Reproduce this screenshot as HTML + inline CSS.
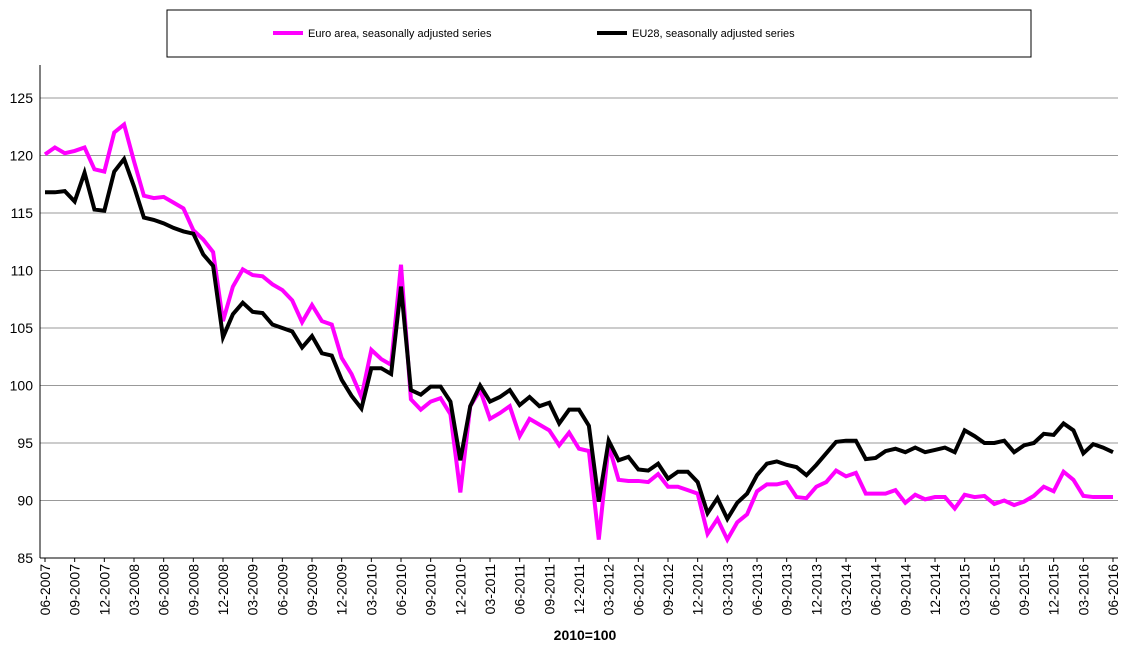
<!DOCTYPE html>
<html><head><meta charset="utf-8"><style>
body{margin:0;background:#fff;}
svg{display:block;font-family:"Liberation Sans",Arial,sans-serif;}
</style></head><body>
<svg id="chart" width="1131" height="645" viewBox="0 0 1131 645">
<rect x="167" y="10" width="864" height="47" fill="#fff" stroke="#000" stroke-width="1"/>
<line x1="273" y1="33" x2="303" y2="33" stroke="#ff00ff" stroke-width="4"/>
<text x="308" y="37" font-size="11">Euro area, seasonally adjusted series</text>
<line x1="597" y1="33" x2="627" y2="33" stroke="#000" stroke-width="4"/>
<text x="632" y="37" font-size="11">EU28, seasonally adjusted series</text>
<g id="grid"></g><g id="axes"></g><g id="series"></g>
<text x="585" y="640" font-size="14" font-weight="bold" text-anchor="middle">2010=100</text>
</svg>
<script>
const yTicks=[85,90,95,100,105,110,115,120,125];
const months=["06","07","08","09","10","11","12","01","02","03","04","05"];
const euroArea=[120.1,120.7,120.2,120.4,120.7,118.8,118.6,122.0,122.7,119.5,116.5,116.3,116.4,115.9,115.4,113.5,112.7,111.6,105.6,108.6,110.1,109.6,109.5,108.8,108.3,107.4,105.5,107.0,105.6,105.3,102.4,101.0,99.0,103.1,102.3,101.8,110.5,98.8,97.9,98.6,98.9,97.5,90.7,98.2,99.6,97.1,97.6,98.2,95.6,97.1,96.6,96.1,94.8,95.9,94.5,94.3,86.6,94.8,91.8,91.7,91.7,91.6,92.3,91.2,91.2,90.9,90.6,87.1,88.4,86.6,88.1,88.8,90.8,91.4,91.4,91.6,90.3,90.2,91.2,91.6,92.6,92.1,92.4,90.6,90.6,90.6,90.9,89.8,90.5,90.1,90.3,90.3,89.3,90.5,90.3,90.4,89.7,90.0,89.6,89.9,90.4,91.2,90.8,92.5,91.8,90.4,90.3,90.3,90.3];
const eu28=[116.8,116.8,116.9,116.0,118.5,115.3,115.2,118.6,119.7,117.3,114.6,114.4,114.1,113.7,113.4,113.2,111.4,110.4,104.2,106.2,107.2,106.4,106.3,105.3,105.0,104.7,103.3,104.3,102.8,102.6,100.5,99.1,98.0,101.5,101.5,101.0,108.6,99.6,99.2,99.9,99.9,98.6,93.5,98.2,100.0,98.6,99.0,99.6,98.3,99.0,98.2,98.5,96.7,97.9,97.9,96.5,89.9,95.2,93.5,93.8,92.7,92.6,93.2,91.9,92.5,92.5,91.6,88.9,90.2,88.4,89.8,90.6,92.2,93.2,93.4,93.1,92.9,92.2,93.1,94.1,95.1,95.2,95.2,93.6,93.7,94.3,94.5,94.2,94.6,94.2,94.4,94.6,94.2,96.1,95.6,95.0,95.0,95.2,94.2,94.8,95.0,95.8,95.7,96.7,96.1,94.1,94.9,94.6,94.2];
const NS="http://www.w3.org/2000/svg";
const L=40,R=1118,T=98,B=558,x0=45,x1=1113;
const xS=i=>x0+i*(x1-x0)/(euroArea.length-1);
const yS=v=>B-(v-85)*(B-T)/40;
function mk(t,a,p){const e=document.createElementNS(NS,t);for(const k in a)e.setAttribute(k,a[k]);p.appendChild(e);return e;}
const grid=document.getElementById('grid'),axes=document.getElementById('axes'),ser=document.getElementById('series');
yTicks.forEach(v=>{
 if(v>85){const g=mk('line',{x1:L,x2:R,y1:yS(v),y2:yS(v),stroke:'#999','stroke-width':1},grid);
 
 }
 const t=mk('text',{x:33,y:yS(v)+5,'font-size':14,'text-anchor':'end'},axes);t.textContent=v;
 
 
});
const ya=mk('line',{x1:L,x2:L,y1:65,y2:B,stroke:'#000','stroke-width':1},axes);


const xa=mk('line',{x1:L,x2:R,y1:B,y2:B,stroke:'#000','stroke-width':1},axes);


for(let i=0;i<euroArea.length;i+=3){
 const m=months[i%12],yr=2007+Math.floor((i+5)/12);
 const lab=m+'-'+yr,x=xS(i);
 const tk=mk('line',{x1:x,x2:x,y1:B,y2:B+4,stroke:'#000'},axes);
 
 
 const t=mk('text',{x:0,y:0,'font-size':14,'text-anchor':'end',transform:`translate(${x+5},${B+6}) rotate(-90)`},axes);t.textContent=lab;
 
 
}
function line(arr,col,name){const p=mk('polyline',{points:arr.map((v,i)=>xS(i)+','+yS(v)).join(' '),fill:'none',stroke:col,'stroke-width':4,'stroke-linejoin':'miter'},ser);
 
 }
line(euroArea,'#ff00ff','euro-area-line');
line(eu28,'#000','eu28-line');
</script>
</body></html>
